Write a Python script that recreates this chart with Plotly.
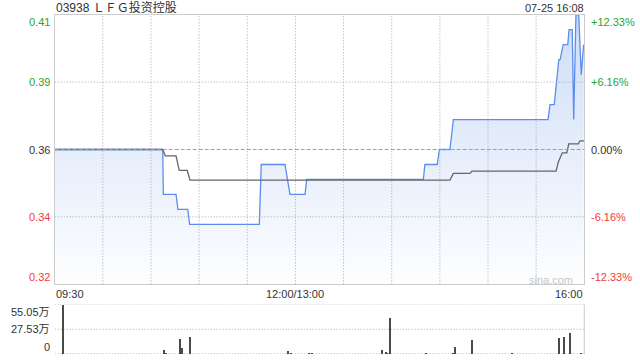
import plotly.graph_objects as go

# ---------------- data ----------------
title_text = "03938 ＬＦＧ投资控股"
stamp_text = "07-25 16:08"
watermark_text = "sina.com"
prev_close = 0.365
pct_levels = [12.33, 6.16, 0.0, -6.16, -12.33]
price_labels = ["0.41", "0.39", "0.36", "0.34", "0.32"]
pct_labels = ["+12.33%", "+6.16%", "0.00%", "-6.16%", "-12.33%"]
time_labels = ["09:30", "12:00/13:00", "16:00"]
time_label_pos = [0, 150, 330]
vol_labels = ["55.05万", "27.53万", "0"]
vol_levels = [55.05, 27.53, 0]

# price line (minute index since 09:30, trading minutes only)
price_t = [0, 67.3, 67.7, 75.6, 76.8, 82.9, 84.1, 127.5, 128.7, 143.5, 146.6,
           156.0, 157.0, 229.7, 230.7, 238.4, 239.7, 246.3, 248.4, 307.4, 308.6,
           311.3, 314.1, 314.9, 316.9, 319.7, 320.5, 322.5, 323.4, 324.8, 326.5,
           328.1, 329.6]
price_v = [0.365, 0.365, 0.35, 0.35, 0.345, 0.345, 0.34, 0.34, 0.36, 0.36, 0.35,
           0.35, 0.355, 0.355, 0.36, 0.36, 0.365, 0.365, 0.375, 0.375, 0.38,
           0.38, 0.395, 0.395, 0.40, 0.40, 0.405, 0.405, 0.375, 0.41, 0.41,
           0.39, 0.40]

# average price line
avg_t = [0, 67.3, 68.9, 75.6, 77.6, 82.6, 84.3, 246.3, 248.4, 258.8, 260.0,
         312.4, 313.8, 316.3, 319.1, 320.3, 326.3, 327.3, 329.8]
avg_v = [0.365, 0.365, 0.3629, 0.3629, 0.358, 0.358, 0.3548, 0.3548, 0.357,
         0.357, 0.3578, 0.3578, 0.3608, 0.3639, 0.3639, 0.3669, 0.3669,
         0.3679, 0.3679]

# volume (万股)
vol_t = [5, 68, 69, 78, 79, 84, 145, 147, 158, 160, 204, 206, 207, 209, 231,
         248, 249, 260, 285, 314, 317, 321, 328]
vol_v = [55.05, 4.5, 1.5, 16.7, 6.7, 19.0, 3.7, 1.5, 1.0, 1.0, 4.5, 2.5, 2.0,
         40.2, 2.0, 2.0, 8.9, 15.6, 1.0, 17.9, 19.0, 23.4, 2.0]

# ---------------- style ----------------
W, H = 640, 360
FONT = "Liberation Sans, Arial, Noto Sans CJK SC, sans-serif"
GREEN = "#2aa52a"
RED = "#f03c3c"
DARK = "#333333"
X0, X1 = 54.7 / W, 584.3 / W
P_TOP, P_BOT = 1 - 14.7 / H, 1 - 284.3 / H
V_TOP, V_BOT = 1 - 304.5 / H, 1 - 354.0 / H
DOTS = "1px,2px"
GRID = "#a6a6a6"

levels = [prev_close * (1 + p / 100) for p in pct_levels]
y_hi, y_lo = levels[0], levels[-1]

fig = go.Figure()

fig.add_trace(go.Scatter(
    x=price_t, y=price_v, mode="lines",
    line=dict(color="#5b8def", width=1.3),
    fill="tozeroy",
    fillgradient=dict(type="vertical",
                      colorscale=[[0, "rgba(253,254,255,1)"], [1, "rgba(206,221,247,1)"]],
                      start=y_lo, stop=y_hi),
    hoverinfo="skip", xaxis="x", yaxis="y"))

fig.add_trace(go.Scatter(
    x=avg_t, y=avg_v, mode="lines",
    line=dict(color="#666666", width=1.3),
    hoverinfo="skip", xaxis="x", yaxis="y"))

fig.add_trace(go.Bar(
    x=vol_t, y=vol_v, width=0.6,
    marker=dict(color="#4a4a4a", line=dict(width=0)),
    hoverinfo="skip", xaxis="x2", yaxis="y2"))

fig.update_layout(
    width=W, height=H,
    margin=dict(l=0, r=0, t=0, b=0),
    paper_bgcolor="white", plot_bgcolor="white",
    showlegend=False,
    font=dict(family=FONT, size=11, color=DARK),
    bargap=0,
    xaxis=dict(domain=[X0, X1], range=[0, 330], anchor="y",
               showticklabels=False, showgrid=False,
               showline=True, mirror=True, linecolor="#cccccc", linewidth=1,
               zeroline=False, ticks=""),
    yaxis=dict(domain=[P_BOT, P_TOP], range=[y_lo, y_hi], anchor="x",
               showticklabels=False, showgrid=False,
               showline=True, mirror=True, linecolor="#cccccc", linewidth=1,
               zeroline=False, ticks=""),
    xaxis2=dict(domain=[X0, X1], range=[0, 330], anchor="y2",
                showticklabels=False, showgrid=False, showline=False,
                zeroline=False, ticks=""),
    yaxis2=dict(domain=[V_BOT, V_TOP], range=[0, vol_levels[0]], anchor="x2",
                showticklabels=False, showgrid=False, showline=False,
                zeroline=False, ticks=""),
)

shapes = []
# vertical dotted grid every 30 minutes (drawn above the fill)
for gx in range(30, 330, 30):
    shapes.append(dict(type="line", xref="x", yref="y", x0=gx, x1=gx, y0=y_lo, y1=y_hi,
                       line=dict(color=GRID, width=1, dash=DOTS), layer="above"))
# horizontal dotted grid
for lv in (levels[1], levels[3]):
    shapes.append(dict(type="line", xref="x", yref="y", x0=0, x1=330, y0=lv, y1=lv,
                       line=dict(color=GRID, width=1, dash=DOTS), layer="above"))
# previous close dashed line
shapes.append(dict(type="line", xref="x", yref="y", x0=0, x1=330,
                   y0=levels[2], y1=levels[2],
                   line=dict(color="#a0a0a0", width=1, dash="4px,2px"), layer="above"))
# volume panel lines
for lv in vol_levels[:2]:
    shapes.append(dict(type="line", xref="x2", yref="y2", x0=0, x1=330, y0=lv, y1=lv,
                       line=dict(color=GRID, width=1, dash=DOTS), layer="below"))
shapes.append(dict(type="line", xref="x2", yref="y2", x0=0, x1=330, y0=0, y1=0,
                   line=dict(color="#7a7a7a", width=1, dash=DOTS), layer="below"))
shapes.append(dict(type="line", xref="paper", yref="paper", x0=X1, x1=X1,
                   y0=V_BOT, y1=V_TOP, line=dict(color="#cccccc", width=1)))
fig.update_layout(shapes=shapes)

ann = []
colors = [GREEN, GREEN, DARK, RED, RED]
for i, (lv, pl, cl) in enumerate(zip(levels, price_labels, pct_labels)):
    ya = "top" if i == 0 else ("bottom" if i == len(levels) - 1 else "middle")
    ann.append(dict(xref="paper", yref="y", x=51 / W, y=lv, text=pl, showarrow=False,
                    xanchor="right", yanchor=ya, font=dict(size=11, color=colors[i]),
                    borderpad=0))
    ann.append(dict(xref="paper", yref="y", x=590 / W, y=lv, text=cl, showarrow=False,
                    xanchor="left", yanchor=ya, font=dict(size=11, color=colors[i]),
                    borderpad=0))
for i, (lv, vl) in enumerate(zip(vol_levels, vol_labels)):
    ya = "top" if i == 0 else ("bottom" if i == len(vol_levels) - 1 else "middle")
    ann.append(dict(xref="paper", yref="y2", x=51 / W, y=lv, text=vl, showarrow=False,
                    xanchor="right", yanchor=ya, font=dict(size=11, color=DARK),
                    borderpad=0))
xanchors = ["left", "center", "right"]
for tl, tp, xa in zip(time_labels, time_label_pos, xanchors):
    ann.append(dict(xref="x", yref="paper", x=tp, y=1 - 293.5 / H, text=tl,
                    showarrow=False, xanchor=xa, yanchor="middle",
                    font=dict(size=11, color=DARK), borderpad=0))
ann.append(dict(xref="paper", yref="paper", x=54.5 / W, y=1 - 7.5 / H, text=title_text,
                showarrow=False, xanchor="left", yanchor="middle",
                font=dict(size=12, color=DARK), borderpad=0))
ann.append(dict(xref="paper", yref="paper", x=584.5 / W, y=1 - 7.5 / H, text=stamp_text,
                showarrow=False, xanchor="right", yanchor="middle",
                font=dict(size=11, color=DARK), borderpad=0))
ann.append(dict(xref="paper", yref="paper", x=573.5 / W, y=1 - 279.5 / H, text=watermark_text,
                showarrow=False, xanchor="right", yanchor="middle",
                font=dict(size=11, color="#c8c8c8"), borderpad=0))
fig.update_layout(annotations=ann)

fig.write_html("out.html")
